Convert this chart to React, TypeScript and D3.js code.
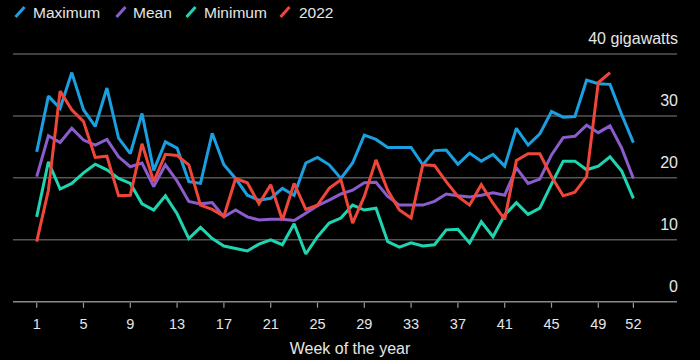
import React from "react";
import * as d3 from "d3";

const weeks: number[] = Array.from({ length: 52 }, (_, i) => i + 1);

const maximum: number[] = [
  24.2, 33.2, 31.2, 37.0, 31.0, 28.3, 34.5, 26.4, 23.9, 30.4, 21.2, 25.8, 24.8,
  19.4, 19.1, 27.2, 22.1, 19.9, 17.2, 16.4, 16.7, 18.3, 17.2, 22.4, 23.3, 22.1,
  19.9, 22.4, 26.9, 26.2, 24.9, 24.9, 24.9, 22.1, 24.4, 24.5, 22.2, 24.0, 22.7,
  23.8, 21.9, 28.0, 25.3, 27.1, 30.7, 29.8, 29.9, 35.8, 35.2, 35.1, 30.2, 25.7,
];

const mean: number[] = [
  20.2, 26.8, 25.7, 28.0, 26.1, 25.3, 26.2, 23.4, 21.8, 22.4, 18.6, 22.1, 19.5,
  16.2, 15.8, 16.0, 13.7, 14.8, 13.7, 13.2, 13.3, 13.3, 13.1, 14.3, 15.5, 16.4,
  17.4, 18.0, 19.2, 19.3, 17.0, 15.6, 15.6, 15.6, 16.2, 17.4, 17.1, 16.9, 17.2,
  17.6, 17.2, 21.6, 19.1, 19.8, 23.7, 26.5, 26.7, 28.5, 27.3, 28.4, 24.8, 19.9,
];

const minimum: number[] = [
  13.7, 22.6, 18.2, 19.1, 20.8, 22.2, 21.3, 19.9, 19.1, 15.8, 14.8, 17.1, 14.2,
  10.2, 12.0, 10.2, 9.0, 8.6, 8.2, 9.3, 10.0, 9.2, 12.6, 7.7, 10.5, 12.7, 13.5,
  15.6, 14.8, 15.1, 9.7, 8.8, 9.5, 9.0, 9.2, 11.6, 11.7, 9.5, 12.9, 10.5, 14.0,
  16.0, 14.1, 15.1, 19.0, 22.7, 22.7, 21.3, 21.9, 23.4, 21.1, 16.7,
];

const y2022: (number | null)[] = [
  9.7, 18.0, 34.0, 31.0, 29.1, 23.3, 23.5, 17.1, 17.2, 25.5, 19.4, 23.8, 23.6,
  22.1, 15.6, 14.9, 13.8, 19.9, 19.2, 15.8, 18.9, 13.2, 19.1, 14.9, 15.6, 18.3,
  19.7, 12.7, 17.0, 22.9, 18.0, 14.8, 13.5, 22.1, 22.0, 19.4, 17.0, 15.6, 18.9,
  15.9, 13.3, 22.8, 23.9, 23.9, 20.2, 17.1, 17.7, 20.2, 35.4, 37.0, null, null,
];

const xTicks: number[] = [1, 5, 9, 13, 17, 21, 25, 29, 33, 37, 41, 45, 49, 52];
const yTicks: number[] = [0, 10, 20, 30, 40];

const seriesNames: string[] = ["Maximum", "Mean", "Minimum", "2022"];
const seriesColors: string[] = ["#1a9fe0", "#8a5ccc", "#1fd4b0", "#f0463a"];

const W = 700;
const H = 360;
const FONT = "'Liberation Sans', Arial, sans-serif";

export default function App() {
  const x = d3.scaleLinear().domain([1, 52]).range([36.7, 633.4]);
  const y = d3.scaleLinear().domain([0, 40]).range([301.7, 54]);

  const seriesData: (number | null)[][] = [maximum, mean, minimum, y2022];

  const line = d3
    .line<number | null>()
    .defined((d) => d !== null)
    .x((_, i) => x(weeks[i]))
    .y((d) => y(d as number))
    .curve(d3.curveLinear);

  const legendX = [14, 115, 185, 279];
  const legendTextX = [33, 133, 204, 299];

  return (
    <svg
      width={W}
      height={H}
      style={{ position: "fixed", left: 0, top: 0, background: "#000", display: "block" }}
      fontFamily={FONT}
    >
      <rect x={0} y={0} width={W} height={H} fill="#000" />
      {/* legend */}
      {seriesNames.map((n, i) => (
        <g key={n}>
          <line
            x1={legendX[i] + 1.5}
            y1={17}
            x2={legendX[i] + 10.5}
            y2={7}
            stroke={seriesColors[i]}
            strokeWidth={3}
          />
          <text x={legendTextX[i]} y={18} fill="#e6e6e6" fontSize={15.5}>
            {n}
          </text>
        </g>
      ))}
      {/* gridlines */}
      {yTicks.map((t) => (
        <line
          key={"g" + t}
          x1={13}
          x2={677}
          y1={y(t)}
          y2={y(t)}
          stroke={t === 0 ? "#8a8a8a" : "#555"}
          strokeWidth={1.5}
        />
      ))}
      {/* y labels */}
      {yTicks.map((t) => (
        <text
          key={"yl" + t}
          x={678}
          y={y(t) - 10}
          textAnchor="end"
          fill="#e6e6e6"
          fontSize={16}
        >
          {t === 40 ? "40 gigawatts" : t}
        </text>
      ))}
      {/* x ticks */}
      {xTicks.map((t) => (
        <g key={"xt" + t}>
          <line
            x1={x(t)}
            x2={x(t)}
            y1={y(0) + 1}
            y2={y(0) + 6}
            stroke="#9a9a9a"
            strokeWidth={1.2}
          />
          <text
            x={x(t)}
            y={329}
            textAnchor="middle"
            fill="#e6e6e6"
            fontSize={14.5}
          >
            {t}
          </text>
        </g>
      ))}
      <text x={350} y={354} textAnchor="middle" fill="#e6e6e6" fontSize={16}>
        Week of the year
      </text>
      {/* lines */}
      {seriesData.map((s, i) => (
        <path
          key={"s" + i}
          d={line(s) || ""}
          fill="none"
          stroke={seriesColors[i]}
          strokeWidth={3}
          strokeLinejoin="miter"
          strokeMiterlimit={2}
        />
      ))}
    </svg>
  );
}
